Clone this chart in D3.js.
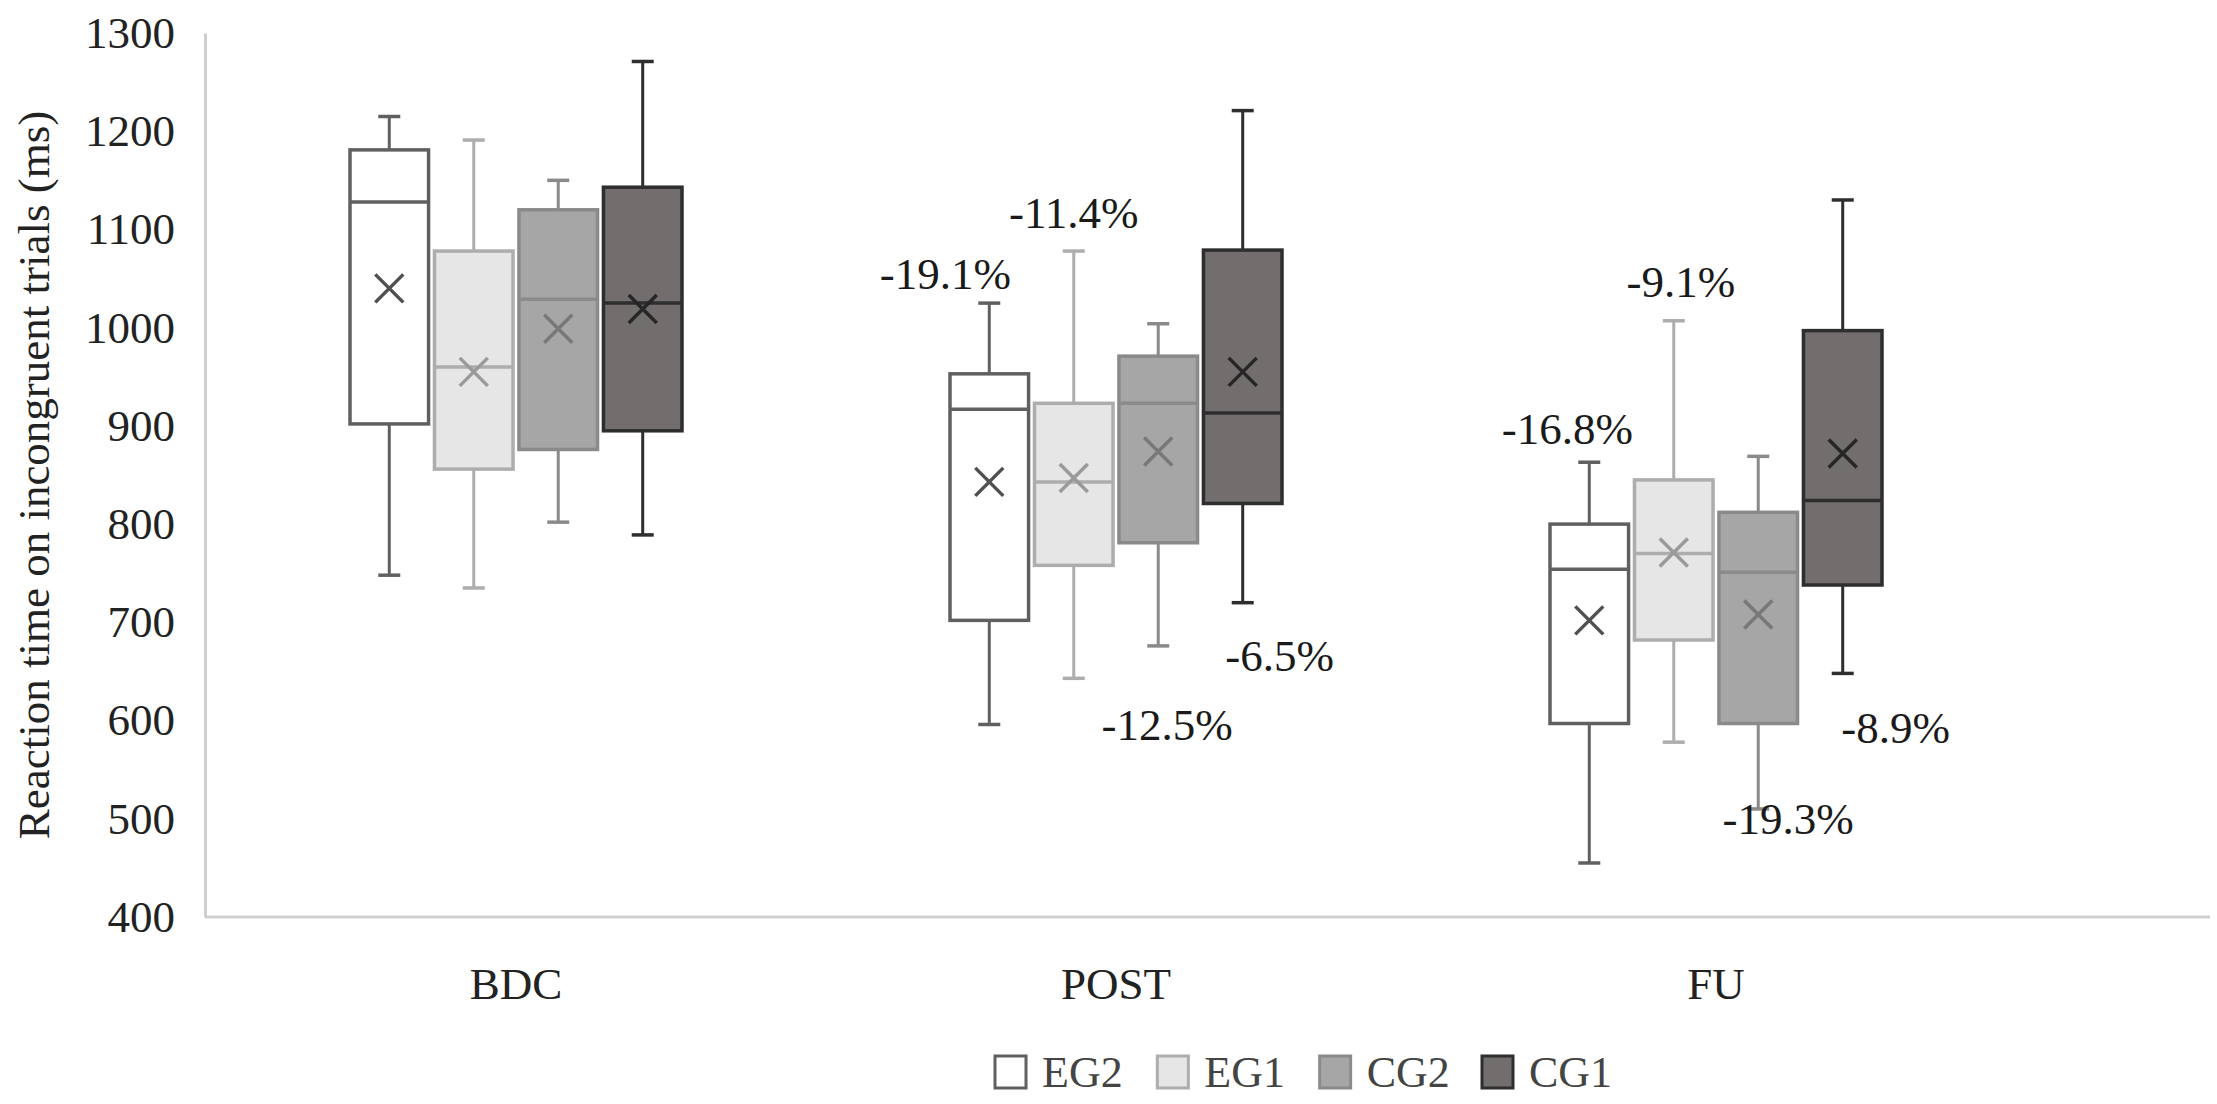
<!DOCTYPE html>
<html>
<head>
<meta charset="utf-8">
<script src="https://cdn.jsdelivr.net/npm/d3@7"></script>
<style>
  body { margin: 0; background: #fff; }
  svg { display: block; }
</style>
</head>
<body>
<svg id="chart" width="2217" height="1104"></svg>
<script>
const phases = ['BDC', 'POST', 'FU']
const groups = ['EG2', 'EG1', 'CG2', 'CG1']

// each row is one phase, each column one group (same order as groups)
const maxVals    = [[1215, 1191, 1150, 1271], [1025, 1078, 1004, 1221], [863, 1007, 869, 1130]]
const q3Vals     = [[1181, 1078, 1120, 1143], [953, 923, 971, 1079], [800, 845, 812, 997]]
const medianVals = [[1128, 960, 1029, 1025], [917, 843, 923, 913], [754, 770, 751, 824]]
const meanVals   = [[1040, 955, 999, 1019], [843, 847, 874, 955], [702, 771, 708, 872]]
const q1Vals     = [[902, 856, 876, 895], [702, 758, 781, 821], [597, 682, 597, 738]]
const minVals    = [[748, 735, 802, 789], [596, 643, 676, 720], [455, 578, 510, 648]]

const yTicks = [400, 500, 600, 700, 800, 900, 1000, 1100, 1200, 1300]

// percentage change labels, placed next to a box at a given ms level
const pctText  = ['-19.1%', '-11.4%', '-12.5%', '-6.5%', '-16.8%', '-9.1%', '-19.3%', '-8.9%']
const pctPhase = ['POST', 'POST', 'POST', 'POST', 'FU', 'FU', 'FU', 'FU']
const pctGroup = ['EG2', 'EG1', 'CG2', 'CG1', 'EG2', 'EG1', 'CG2', 'CG1']
const pctLevel = [1055, 1117, 595, 666, 897, 1046, 500, 592]
const pctShift = [-44, 0, 9, 37, -22, 7, 30, 53]   // px, horizontal nudge

const fills   = {EG2: '#ffffff', EG1: '#e6e6e6', CG2: '#a6a6a6', CG1: '#736e6e'}
const strokes = {EG2: '#606060', EG1: '#adadad', CG2: '#8a8a8a', CG1: '#2e2e2e'}
const marks   = {EG2: '#505050', EG1: '#9a9a9a', CG2: '#787878', CG1: '#262626'}

const font = '"Liberation Serif", "Times New Roman", serif'
const svg = d3.select('#chart')

const plotLeft = 205, plotTop = 33, plotBottom = 917

let y = d3.scaleLinear().domain([400, 1300]).range([plotBottom, plotTop])
let x = d3.scaleBand().domain(phases).range([216, 2016])
let xSub = d3.scaleBand().domain(groups).range([-166, 166]).paddingInner(0.07)

// build one record per box
let boxes = []
phases.forEach((p, i) => {
  groups.forEach((g, j) => {
    boxes.push({phase: p, group: g,
      min: minVals[i][j], q1: q1Vals[i][j], median: medianVals[i][j],
      q3: q3Vals[i][j], max: maxVals[i][j], mean: meanVals[i][j]})
  })
})
let cx = d => x(d.phase) + x.bandwidth() / 2 + xSub(d.group) + xSub.bandwidth() / 2

// y axis
let yAxis = svg.append('g')
  .attr('transform', `translate(${plotLeft},0)`)
  .call(d3.axisLeft(y).tickValues(yTicks).tickSize(0).tickPadding(30).tickFormat(d3.format('d')))
yAxis.select('.domain').attr('stroke', '#cfcfcf').attr('stroke-width', 3)
yAxis.selectAll('text')
  .attr('font-family', font).attr('font-size', 45).attr('fill', '#222')

// x axis
let xAxis = svg.append('g')
  .attr('transform', `translate(0,${plotBottom})`)
  .call(d3.axisBottom(x).tickSize(0).tickPadding(50))
xAxis.select('.domain').remove()
xAxis.selectAll('text')
  .attr('font-family', font).attr('font-size', 45).attr('fill', '#222')
svg.append('line')
  .attr('x1', plotLeft).attr('x2', 2210)
  .attr('y1', plotBottom).attr('y2', plotBottom)
  .attr('stroke', '#cfcfcf').attr('stroke-width', 3)

// y title
svg.append('text')
  .attr('transform', `translate(34,${(plotTop + plotBottom) / 2}) rotate(-90)`)
  .attr('text-anchor', 'middle').attr('dominant-baseline', 'central')
  .attr('font-family', font).attr('font-size', 45).attr('fill', '#222')
  .text('Reaction time on incongruent trials (ms)')

// boxes
let box = svg.append('g').selectAll('g')
  .data(boxes)
  .enter()
  .append('g')

let capW = 22
box.append('line')
  .attr('x1', cx).attr('x2', cx)
  .attr('y1', d => y(d.max)).attr('y2', d => y(d.q3))
  .attr('stroke', d => strokes[d.group]).attr('stroke-width', 3)
box.append('line')
  .attr('x1', cx).attr('x2', cx)
  .attr('y1', d => y(d.q1)).attr('y2', d => y(d.min))
  .attr('stroke', d => strokes[d.group]).attr('stroke-width', 3)
box.append('line')
  .attr('x1', d => cx(d) - capW / 2).attr('x2', d => cx(d) + capW / 2)
  .attr('y1', d => y(d.max)).attr('y2', d => y(d.max))
  .attr('stroke', d => strokes[d.group]).attr('stroke-width', 3.5)
box.append('line')
  .attr('x1', d => cx(d) - capW / 2).attr('x2', d => cx(d) + capW / 2)
  .attr('y1', d => y(d.min)).attr('y2', d => y(d.min))
  .attr('stroke', d => strokes[d.group]).attr('stroke-width', 3.5)
box.append('rect')
  .attr('x', d => cx(d) - xSub.bandwidth() / 2)
  .attr('width', xSub.bandwidth())
  .attr('y', d => y(d.q3))
  .attr('height', d => y(d.q1) - y(d.q3))
  .attr('fill', d => fills[d.group])
  .attr('stroke', d => strokes[d.group]).attr('stroke-width', 3.5)
box.append('line')
  .attr('x1', d => cx(d) - xSub.bandwidth() / 2).attr('x2', d => cx(d) + xSub.bandwidth() / 2)
  .attr('y1', d => y(d.median)).attr('y2', d => y(d.median))
  .attr('stroke', d => strokes[d.group]).attr('stroke-width', 3.5)

// mean markers
let m = 14
box.append('path')
  .attr('d', d => {
    let px = cx(d), py = y(d.mean)
    return `M${px - m},${py - m}L${px + m},${py + m}M${px - m},${py + m}L${px + m},${py - m}`
  })
  .attr('stroke', d => marks[d.group]).attr('stroke-width', 3.5).attr('fill', 'none')

// percentage labels
svg.append('g').selectAll('text')
  .data(pctText)
  .enter()
  .append('text')
  .attr('x', (d, i) => x(pctPhase[i]) + x.bandwidth() / 2 + xSub(pctGroup[i]) + xSub.bandwidth() / 2 + pctShift[i])
  .attr('y', (d, i) => y(pctLevel[i]))
  .attr('text-anchor', 'middle').attr('dominant-baseline', 'central')
  .attr('font-family', font).attr('font-size', 45).attr('fill', '#1a1a1a')
  .text(d => d)

// legend
let legendX = d3.scalePoint().domain(groups).range([995, 1482])
let legend = svg.append('g').selectAll('g')
  .data(groups)
  .enter()
  .append('g')
  .attr('transform', d => `translate(${legendX(d)},1072)`)
legend.append('rect')
  .attr('x', 0).attr('y', -16).attr('width', 31).attr('height', 32)
  .attr('fill', d => fills[d]).attr('stroke', d => strokes[d]).attr('stroke-width', 3)
legend.append('text')
  .attr('x', 47).attr('y', 0)
  .attr('dominant-baseline', 'central')
  .attr('font-family', font).attr('font-size', 44).attr('fill', '#444')
  .text(d => d)
</script>
</body>
</html>
